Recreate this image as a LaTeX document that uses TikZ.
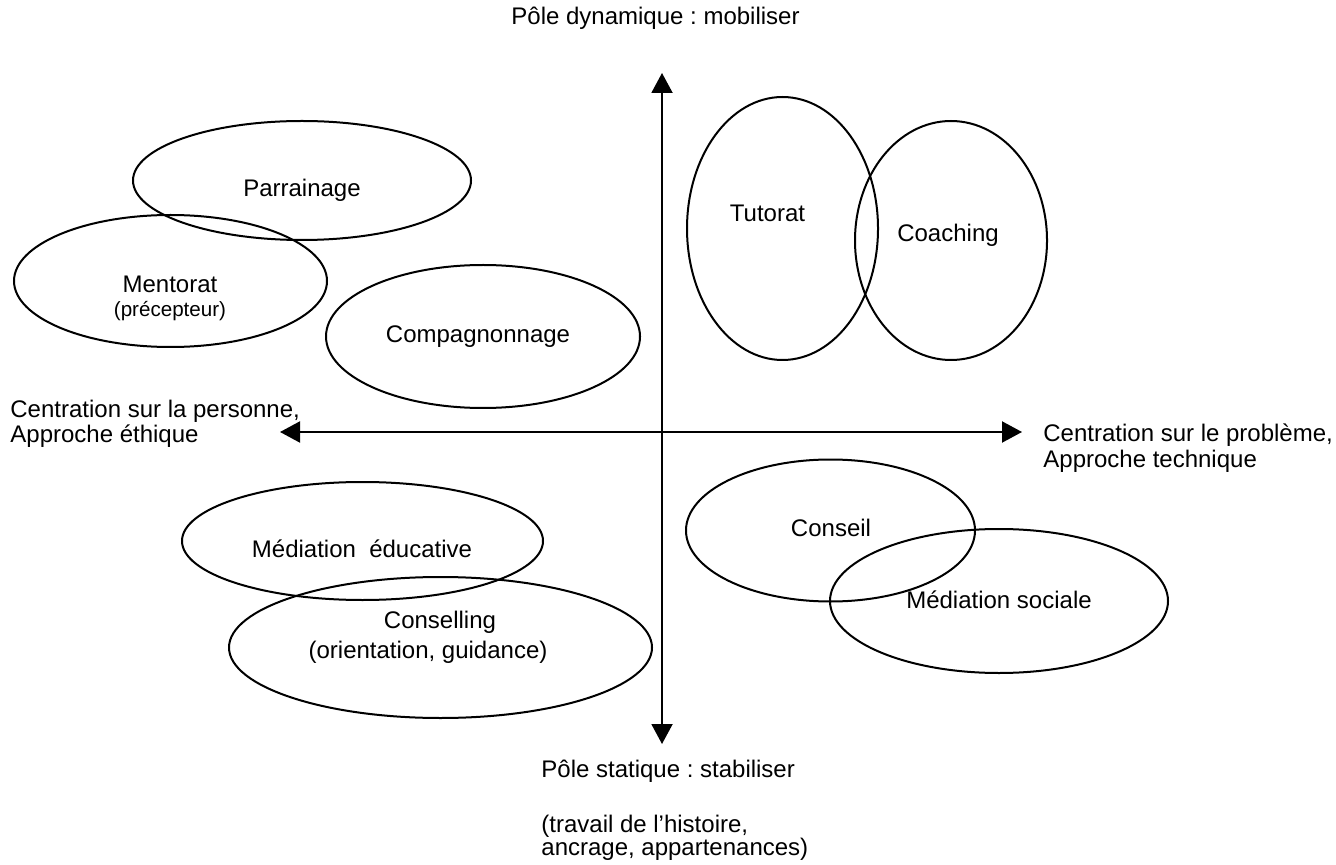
\documentclass[tikz,border=0pt]{standalone}
\usepackage{fontspec}
\setmainfont{Liberation Sans}
\usetikzlibrary{shapes.geometric,arrows.meta}
\frenchspacing
\begin{document}
\begin{tikzpicture}[x=0.5pt,y=-0.5pt,
  oval/.style={draw,ellipse,line width=1pt,inner sep=0pt,outer sep=0pt},
  lbl/.style={inner sep=0pt,anchor=base,font=\fontsize{12}{12.5}\selectfont},
  small/.style={inner sep=0pt,anchor=base,font=\fontsize{10.3}{12}\selectfont},
  side/.style={inner sep=0pt,anchor=base west,align=left,font=\fontsize{12}{12.8}\selectfont},
  axis/.style={line width=1pt,{Triangle[length=10pt,width=10.5pt]}-{Triangle[length=10pt,width=10.5pt]}}]
\useasboundingbox (0,0) rectangle (1336,865);
% ellipses
\node[oval,minimum width=169pt,minimum height=59.5pt] (parr) at (302,180.5) {};
\node[oval,minimum width=156.5pt,minimum height=66pt] (ment) at (170.5,281) {};
\node[oval,minimum width=157pt,minimum height=71.5pt] (comp) at (483,336.5) {};
\node[oval,minimum width=95.5pt,minimum height=131.5pt] (tuto) at (782.5,228.5) {};
\node[oval,minimum width=96pt,minimum height=119.5pt] (coach) at (951,240.5) {};
\node[oval,minimum width=180.5pt,minimum height=59pt] (medu) at (362.5,541) {};
\node[oval,minimum width=211.5pt,minimum height=70.5pt] (consl) at (440.5,647.5) {};
\node[oval,minimum width=144.5pt,minimum height=71pt] (cons) at (830.5,530.5) {};
\node[oval,minimum width=169pt,minimum height=72pt] (msoc) at (999,601) {};
% labels
\node[lbl] (tparr) at (302,197) {Parrainage};
\node[lbl] (tment) at (170,293) {Mentorat};
\node[small] (tprec) at (170,317) {(précepteur)};
\node[lbl] (tcomp) at (478,343) {Compagnonnage};
\node[lbl] (ttuto) at (767.5,222) {Tutorat};
\node[lbl] (tcoach) at (948,242) {Coaching};
\node[lbl] (tmedu) at (362,557) {Médiation\ \ éducative};
\node[lbl] (tconsl) at (440,628) {Conselling};
\node[lbl] (torient) at (428,658) {(orientation, guidance)};
\node[lbl] (tcons) at (831,536) {Conseil};
\node[lbl] (tmsoc) at (999,608) {Médiation sociale};
% axes
\coordinate (top) at (662,73);
\coordinate (bot) at (662,744);
\coordinate (lft) at (280,432);
\coordinate (rgt) at (1022,432);
\draw[axis] (bot) -- (top);
\draw[axis] (lft) -- (rgt);
% axis labels (base = baseline of last line)
\node[lbl,anchor=base east] (ttop) at (800,25) {Pôle dynamique : mobiliser};
\node[side] (tleft) at (10,443) {Centration sur la personne,\\Approche éthique};
\node[side] (tright) at (1043,467) {Centration sur le problème,\\Approche technique};
\node[side] (tbot1) at (541,777) {Pôle statique : stabiliser};
\node[side,font=\fontsize{12}{11.5}\selectfont] (tbot2) at (541,855) {(travail de l’histoire,\\ancrage, appartenances)};
\end{tikzpicture}
\end{document}
